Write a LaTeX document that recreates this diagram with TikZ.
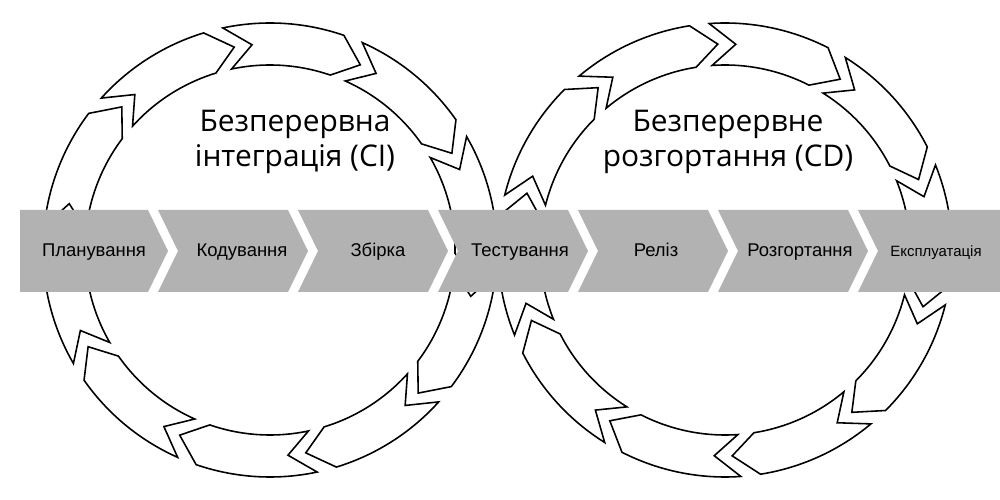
\documentclass[tikz,border=0pt]{standalone}
\usepackage{fontspec}
\setmainfont{Liberation Sans}
\newfontfamily\titlefont{Open Sans}
\begin{document}
\begin{tikzpicture}[x=0.2mm, y=0.2mm,
    seg/.style={draw=black, fill=white, line width=0.9pt, line join=miter},
    band/.style={fill=black!30},
    stage/.style={font=\fontsize{10.5}{12}\selectfont, text height=1.5ex, text depth=0.35ex},
    title/.style={font=\titlefont\fontsize{17}{20}\selectfont, align=center}]

    \useasboundingbox (0,0) rectangle (1000,500);

    % кільця зі стрілок
    \foreach \cx/\rot in {270/12, 725/4}{
        \begin{scope}[shift={(\cx,250)}]
            \foreach \k in {0,...,9}{
                \pgfmathsetmacro{\aa}{\rot+90-\k*36}
                \pgfmathsetmacro{\ab}{\aa-31}
                \pgfmathsetmacro{\at}{\ab-7}
                \pgfmathsetmacro{\an}{\aa-7}
                \draw[seg] (\aa:227) arc[start angle=\aa, end angle=\ab, radius=227]
                    -- (\at:206) -- (\ab:185)
                    arc[start angle=\ab, end angle=\aa, radius=185]
                    -- (\an:206) -- cycle;
            }
        \end{scope}
    }

    % смуга етапів
    \fill[band] (20,290) -- (148,290) -- (168,249) -- (148,208) -- (20,208) -- cycle;
    \foreach \x in {158,298,438,578,718}{
        \fill[band] (\x,290) -- (\x+130,290) -- (\x+150,249) -- (\x+130,208)
            -- (\x,208) -- (\x+20,249) -- cycle;
    }
    \fill[band] (858,290) -- (1000,290) -- (1000,208) -- (858,208) -- (878,249) -- cycle;

    % підписи
    \node[stage] (plan) at (94,249) {Планування};
    \node[stage] (code) at (242,249) {Кодування};
    \node[stage] (build) at (378,249) {Збірка};
    \node[stage] (test) at (520,249) {Тестування};
    \node[stage] (rel) at (656,249) {Реліз};
    \node[stage] (depl) at (800,249) {Розгортання};
    \node[stage, font=\fontsize{8.5}{10}\selectfont] (ops) at (936,249) {Експлуатація};

    \node[title] (ci) at (295,358) {Безперервна\\інтеграція (CI)};
    \node[title] (cd) at (728,358) {Безперервне\\розгортання (CD)};

\end{tikzpicture}
\end{document}
